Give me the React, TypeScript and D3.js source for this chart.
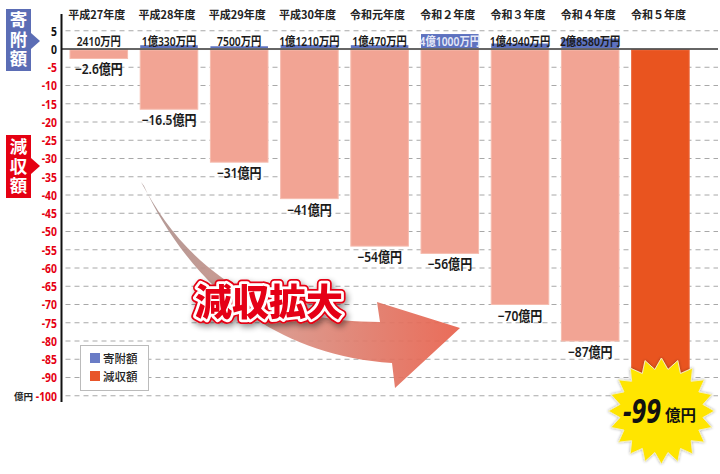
import React from 'react';
import * as d3 from 'd3';

const categories = ['平成27年度', '平成28年度', '平成29年度', '平成30年度', '令和元年度', '令和２年度', '令和３年度', '令和４年度', '令和５年度'];
// 寄附額 (億円)
const donations = [0.241, 1.033, 0.75, 1.121, 1.047, 4.1, 1.494, 2.858, 0];
const donationLabels = ['2410万円', '1億330万円', '7500万円', '1億1210万円', '1億470万円', '4億1000万円', '1億4940万円', '2億8580万円', ''];
// 減収額 bar lengths as drawn (億円)
const reductionBars = [-2.6, -16.5, -31, -41, -54, -56, -70, -80, -99];
const reductionLabels = ['−2.6億円', '−16.5億円', '−31億円', '−41億円', '−54億円', '−56億円', '−70億円', '−87億円', ''];
const tickValues = [5, 0, -5, -10, -15, -20, -25, -30, -35, -40, -45, -50, -55, -60, -65, -70, -75, -80, -85, -90, -95];
const tickLabels = ['5', '0', '-5', '-10', '-15', '-20', '-25', '-30', '-35', '-40', '-45', '-50', '-55', '-60', '-65', '-70', '-75', '-80', '-85', '-90', '-100'];
const highlightValue = '−99';
const highlightUnit = '億円';
const sideLabels = ['寄附額', '減収額'];

const W = 720;
const H = 474;
const JP = "'Noto Sans CJK JP', 'Noto Sans', sans-serif";
const NUM = "'Noto Sans', 'Noto Sans CJK JP', sans-serif";

function Narrow(props: { x: number; y: number; sx: number; anchor?: string; size: number; fill: string; weight?: any; children: any; italic?: boolean }) {
  return (
    <text
      transform={`translate(${props.x},${props.y}) scale(${props.sx},1)`}
      textAnchor={props.anchor || 'middle'}
      fontFamily={NUM}
      fontWeight={props.weight || 'bold'}
      fontStyle={props.italic ? 'italic' : 'normal'}
      fontSize={props.size}
      fill={props.fill}
    >
      {props.children}
    </text>
  );
}

export default function App() {
  const x = d3.scaleBand<string>().domain(categories).range([63.7, 695.5]).paddingInner(0.18).paddingOuter(0.09);
  const y = d3.scaleLinear().domain([0, -90]).range([49, 377.5]);
  const axisX = 61.5;
  const gridRight = 718;
  const bw = x.bandwidth();

  // starburst
  const last = categories[categories.length - 1];
  const cx = (x(last) as number) + bw / 2 + 1;
  const cy = 411;
  const nPts = 20;
  const starPts: [number, number][] = d3.range(nPts * 2).map((i) => [
    (i * Math.PI) / nPts,
    i % 2 === 0 ? 53 : 42,
  ]);
  const starPath = d3.lineRadial().curve(d3.curveLinearClosed)(starPts) as string;

  const arrowPath =
    'M141,182 C180,255 245,322 380,322 L377,302 L460,328 L395,388 L392,363 C265,355 185,275 144,186 Z';

  return (
    <svg width={W} height={H} style={{ position: 'fixed', left: 0, top: 0, background: '#fff' }}>
      <defs>
        <linearGradient id="arrowGrad" x1="141" y1="0" x2="460" y2="0" gradientUnits="userSpaceOnUse">
          <stop offset="0%" stopColor="#a8928f" />
          <stop offset="45%" stopColor="#d99184" />
          <stop offset="100%" stopColor="#e8604b" />
        </linearGradient>
        <filter id="txtShadow" x="-20%" y="-30%" width="140%" height="160%">
          <feGaussianBlur in="SourceAlpha" stdDeviation="3" />
          <feOffset dx="2" dy="3" result="b" />
          <feComponentTransfer>
            <feFuncA type="linear" slope="0.45" />
          </feComponentTransfer>
          <feMerge>
            <feMergeNode />
            <feMergeNode in="SourceGraphic" />
          </feMerge>
        </filter>
        <filter id="starGlow" x="-20%" y="-20%" width="140%" height="140%">
          <feGaussianBlur in="SourceAlpha" stdDeviation="1.5" />
          <feComponentTransfer>
            <feFuncA type="linear" slope="0.35" />
          </feComponentTransfer>
          <feMerge>
            <feMergeNode />
            <feMergeNode in="SourceGraphic" />
          </feMerge>
        </filter>
      </defs>

      {/* gridlines */}
      {tickValues.filter((v) => v !== 0).map((v) => (
        <line key={'g' + v} x1={axisX + 4} x2={gridRight} y1={y(v)} y2={y(v)} stroke="#a8a8a8" strokeWidth={1} strokeDasharray="5,4" />
      ))}

      {/* reduction bars */}
      {categories.map((c, i) => (
        <rect
          key={'r' + c}
          x={x(c)}
          y={y(0) + 1}
          width={bw}
          height={y(reductionBars[i]) - y(0) - 1}
          fill={i === categories.length - 1 ? '#e9541f' : '#f2a494'}
          stroke={i === categories.length - 1 ? '#ec6a3e' : '#f6bcae'}
          strokeWidth={1}
        />
      ))}

      {/* donation bars */}
      {categories.map((c, i) =>
        donations[i] > 0 ? (
          <rect key={'d' + c} x={x(c)} y={y(donations[i])} width={bw} height={y(0) - y(donations[i]) - 1} fill="#5e72bf" />
        ) : null
      )}

      {/* zero line */}
      <line x1={axisX} x2={gridRight} y1={y(0)} y2={y(0)} stroke="#333" strokeWidth={1.5} />
      {/* y axis */}
      <line x1={axisX} x2={axisX} y1={14} y2={402} stroke="#111" strokeWidth={2} />

      {/* tick labels */}
      {tickValues.map((v, i) => (
        <Narrow key={'t' + v} x={57} y={y(v) + 4.8} sx={0.8} anchor="end" size={13} fill={v >= 0 ? '#111' : '#e50012'}>
          {tickLabels[i]}
        </Narrow>
      ))}
      <text x={14} y={y(-95) + 4.5} fontFamily={JP} fontWeight="bold" fontSize={9.5} fill="#222">億円</text>

      {/* category labels */}
      {categories.map((c) => (
        <text key={'c' + c} x={(x(c) as number) + bw / 2 - 2} y={19} textAnchor="middle" fontFamily={JP} fontWeight="bold" fontSize={11} fill="#222">
          {c}
        </text>
      ))}

      {/* donation labels */}
      {categories.map((c, i) => (
        <Narrow
          key={'dl' + c}
          x={(x(c) as number) + bw / 2}
          y={y(0) - 3.5}
          sx={0.86}
          size={12}
          weight={600}
          fill={donations[i] > 3 ? '#e4e8f8' : '#1a1a1a'}
        >
          {donationLabels[i]}
        </Narrow>
      ))}

      {/* reduction labels */}
      {categories.map((c, i) =>
        reductionLabels[i] ? (
          <Narrow key={'rl' + c} x={(x(c) as number) + bw / 2} y={y(reductionBars[i]) + 16} sx={0.86} size={14} weight={600} fill="#1a1a1a">
            {reductionLabels[i]}
          </Narrow>
        ) : null
      )}

      {/* curved arrow */}
      <path d={arrowPath} fill="url(#arrowGrad)" opacity={0.92} />

      {/* 減収拡大 */}
      <g filter="url(#txtShadow)">
        <text x={269} y={316} textAnchor="middle" fontFamily={JP} fontWeight={900} fontSize={37} fill="#e50012" stroke="#e50012" strokeWidth={9} strokeLinejoin="round">減収拡大</text>
        <text x={269} y={316} textAnchor="middle" fontFamily={JP} fontWeight={900} fontSize={37} fill="#fff" stroke="#fff" strokeWidth={5.5} strokeLinejoin="round">減収拡大</text>
        <text x={269} y={316} textAnchor="middle" fontFamily={JP} fontWeight={900} fontSize={37} fill="#e50012">減収拡大</text>
      </g>

      {/* legend */}
      <rect x={80.5} y={345.5} width={68} height={45} fill="#fff" stroke="#bbb" strokeWidth={1} />
      <rect x={90} y={353} width={10} height={10} fill="#6a7cc6" />
      <text x={103} y={363} fontFamily={JP} fontWeight={500} fontSize={11.5} fill="#222">寄附額</text>
      <rect x={90} y={371} width={10} height={10} fill="#e8552a" />
      <text x={103} y={381} fontFamily={JP} fontWeight={500} fontSize={11.5} fill="#222">減収額</text>

      {/* side boxes */}
      <path d="M6,9 H31 V33 L40,41 L31,49 V71 H6 Z" fill="#5b6db5" />
      <text x={18.5} y={11} style={{ writingMode: 'vertical-rl' }} fontFamily={JP} fontWeight="bold" fontSize={17.5} letterSpacing={2} fill="#fff">
        {sideLabels[0]}
      </text>
      <path d="M6,135 H31 V158 L40,166 L31,174 V198 H6 Z" fill="#e50012" />
      <text x={18.5} y={138} style={{ writingMode: 'vertical-rl' }} fontFamily={JP} fontWeight="bold" fontSize={17.5} letterSpacing={2} fill="#fff">
        {sideLabels[1]}
      </text>

      {/* starburst */}
      <g transform={`translate(${cx},${cy})`} filter="url(#starGlow)">
        <path d={starPath} fill="#ffe500" stroke="#f3eec0" strokeWidth={1} />
      </g>
      <Narrow x={623} y={423} sx={0.78} anchor="start" size={34} italic fill="#111">
        {highlightValue}
      </Narrow>
      <text x={665} y={421} fontFamily={JP} fontWeight="bold" fontSize={15.5} fill="#111">{highlightUnit}</text>
    </svg>
  );
}
